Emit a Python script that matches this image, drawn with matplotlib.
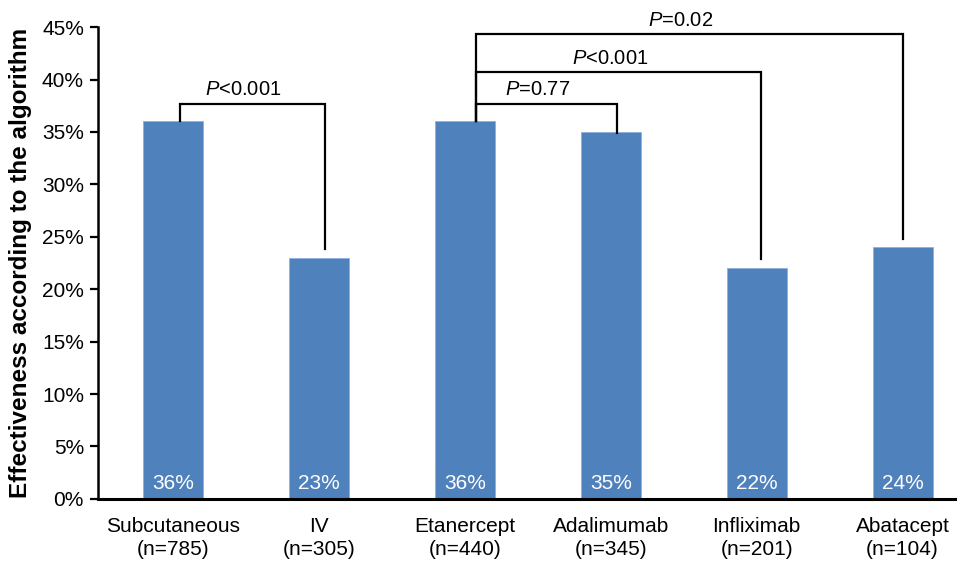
import numpy as np
import matplotlib.pyplot as plt

plt.rcParams['font.family'] = ['Liberation Sans', 'DejaVu Sans']
plt.rcParams['mathtext.fontset'] = 'custom'
plt.rcParams['mathtext.it'] = 'Liberation Sans:italic'
plt.rcParams['mathtext.rm'] = 'Liberation Sans'

# data
groups = ['Subcutaneous', 'IV', 'Etanercept', 'Adalimumab', 'Infliximab', 'Abatacept']
n_values = [785, 305, 440, 345, 201, 104]
effectiveness = [36, 23, 36, 35, 22, 24]

# comparisons: (left bar, right bar, label)
comparisons = [
    (0, 1, '$P$<0.001'),
    (2, 3, '$P$=0.77'),
    (2, 4, '$P$<0.001'),
    (2, 5, '$P$=0.02'),
]
# bracket heights (%) and where the right leg stops (%)
bracket_top = [37.7, 37.7, 40.7, 44.3]
leg_end = [23.8, 34.9, 22.9, 24.8]

bar_color = '#4F81BD'

fig = plt.figure(figsize=(9.59, 5.65), dpi=100)
ax = fig.add_axes([0.102, 0.117, 0.894, 0.835])

x = np.arange(len(groups))
ax.bar(x, effectiveness, width=0.41, color=bar_color, edgecolor='#8DB0DA',
       linewidth=0.6, zorder=2)

for xi, v in zip(x, effectiveness):
    ax.text(xi, 0.6, f'{v}%', ha='center', va='bottom', color='white', fontsize=15)

# significance brackets
leg_shift = [0.05, 0.04, 0.08, 0.04, 0.03, 0.0]
for (i, j, lab), top, end in zip(comparisons, bracket_top, leg_end):
    xl = x[i] + leg_shift[i]
    xr = x[j] + leg_shift[j]
    ax.plot([xl, xl, xr, xr], [effectiveness[i], top, top, end],
            color='black', lw=1.6, solid_joinstyle='miter', zorder=3, clip_on=False)
    ax.text((xl + xr) / 2 - 0.06, top + 0.4, lab, ha='center', va='bottom', fontsize=14.5)

ax.set_xlim(-0.514, 5.36)
ax.set_ylim(0, 45)
ax.set_yticks(np.arange(0, 46, 5))
ax.set_yticklabels([f'{t}%' for t in range(0, 46, 5)], fontsize=15)
ax.set_xticks(x)
ax.set_xticklabels([f'{g}\n(n={n})' for g, n in zip(groups, n_values)], fontsize=15,
                   linespacing=1.3)
ax.tick_params(axis='x', length=0, pad=13)
ax.tick_params(axis='y', length=6, width=1.6, pad=4, direction='out')

ax.spines['top'].set_visible(False)
ax.spines['right'].set_visible(False)
ax.spines['left'].set_linewidth(1.8)
ax.spines['bottom'].set_linewidth(2.2)
ax.spines['bottom'].set_zorder(4)

ax.set_ylabel('Effectiveness according to the algorithm', fontsize=17.5,
              fontweight='bold', labelpad=7)

fig.savefig('out.png', dpi=100)
